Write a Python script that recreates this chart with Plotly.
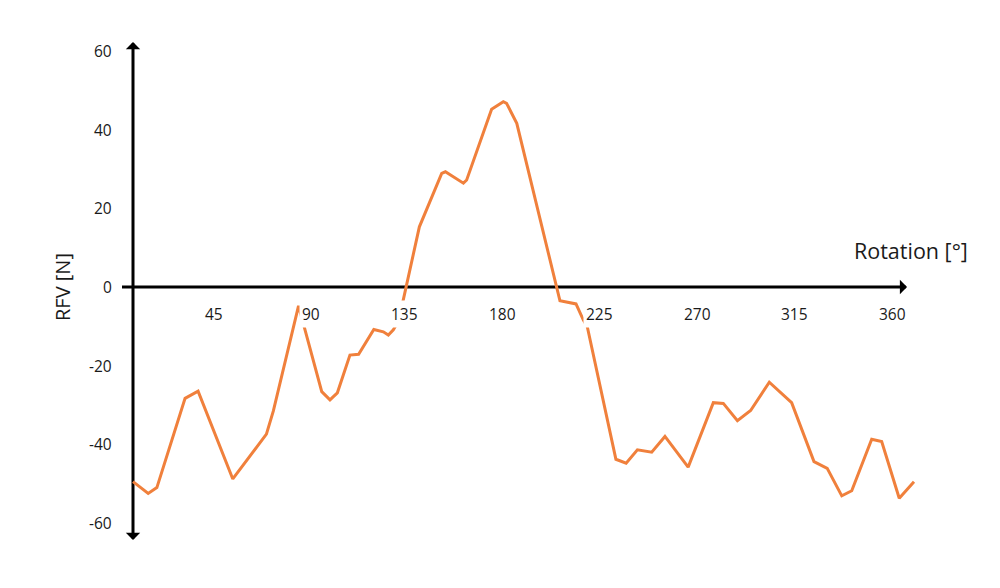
import plotly.graph_objects as go

# ---- data ----
rotation_deg = [0, 7, 11, 24, 30, 46, 61.5, 64.7, 76.3, 87, 90.8, 94.2, 100, 104,
                111, 115.4, 117.7, 120, 122.5, 132, 142.3, 144, 152.3, 153.8, 165.3,
                170.7, 172.2, 176.9, 196.8, 204.2, 207.6, 209.4, 222.6, 227.3, 232.5,
                239.1, 245.2, 255.9, 267.5, 272.1, 278.6, 284.7, 293.3, 303.6, 313.9,
                320, 326.7, 331.3, 340.5, 345.1, 353.2, 360]
rfv_n = [-49.5, -52.5, -51, -28.3, -26.5, -48.8, -37.4, -31.5, -4.8, -26.6, -28.7, -26.9,
         -17.3, -17.1, -10.8, -11.4, -12.2, -10.9, -8.5, 15.3, 28.9, 29.3, 26.4, 27.2,
         45.2, 47.1, 46.7, 41.6, -3.5, -4.3, -8.4, -10.1, -43.8, -44.8, -41.4, -42,
         -38, -45.8, -29.4, -29.6, -34, -31.4, -24.2, -29.4, -44.4, -46.1, -53.1,
         -51.8, -38.7, -39.3, -53.7, -49.5]

x_ticks = [45, 90, 135, 180, 225, 270, 315, 360]
y_ticks = [60, 40, 20, 0, -20, -40, -60]
x_title = "Rotation [°]"
y_title = "RFV [N]"

# ---- styling ----
FONT = "Open Sans"
TXT = "#1a1a1a"
ORANGE = "#F0803C"
X_RANGE = [-5.07, 370.14]
Y_RANGE = [-66.36, 62.8]
X_ARROW_TIP = 356.8
Y_TOP_TIP = 62.3
Y_BOT_TIP = -64.3

# page body has an 8px margin -> figure origin sits at (8, 8) in the window
OFF = 8
W, H = 984, 572
L, T = 122 - OFF, 40 - OFF
PW, PH = 814, 508
R = W - L - PW
B = H - T - PH

fig = go.Figure()
fig.add_trace(go.Scatter(x=rotation_deg, y=rfv_n, mode="lines",
                         line=dict(color=ORANGE, width=3), hoverinfo="skip",
                         showlegend=False))

shapes = [
    dict(type="line", xref="x", yref="y", x0=X_RANGE[0], x1=X_ARROW_TIP - 1.5, y0=0, y1=0,
         line=dict(color="black", width=3), layer="below"),
    dict(type="line", xref="x", yref="y", x0=0, x1=0, y0=Y_BOT_TIP + 1.2, y1=Y_TOP_TIP - 1.2,
         line=dict(color="black", width=3), layer="below"),
]

annotations = []
# arrow heads
for (tx, ty, axp, ayp) in [(0, Y_TOP_TIP, 0, 8), (0, Y_BOT_TIP, 0, -8), (X_ARROW_TIP, 0, -8, 0)]:
    annotations.append(dict(x=tx, y=ty, xref="x", yref="y", text="", showarrow=True,
                            ax=axp, ay=ayp, arrowhead=1, arrowwidth=3, arrowsize=0.8,
                            arrowcolor="black", standoff=0))

# x tick labels (white box hides the line behind them)
for v in x_ticks:
    annotations.append(dict(x=v, y=0, xref="x", yref="y", text=str(v), showarrow=False,
                            xanchor="right", yanchor="middle", xshift=-5, yshift=-27,
                            bgcolor="white", borderpad=2,
                            font=dict(family=FONT, size=15.5, color=TXT)))
# y tick labels
for v in y_ticks:
    annotations.append(dict(x=0, y=v, xref="paper", yref="y", text=str(v), showarrow=False,
                            xanchor="right", yanchor="middle", xshift=-8,
                            font=dict(family=FONT, size=15.5, color=TXT)))

# titles, positioned in window pixels then converted to paper coords
titles = [
    dict(px=911, py=250, text=x_title, size=21.5, angle=0),
    dict(px=62, py=287, text=y_title, size=20, angle=-90),
]
for t in titles:
    annotations.append(dict(x=(t["px"] - OFF - L) / PW, y=(H - B - (t["py"] - OFF)) / PH,
                            xref="paper", yref="paper", text=t["text"], showarrow=False,
                            textangle=t["angle"], xanchor="center", yanchor="middle",
                            font=dict(family=FONT, size=t["size"], color=TXT)))

fig.update_layout(
    width=W, height=H,
    margin=dict(l=L, r=R, t=T, b=B),
    paper_bgcolor="white", plot_bgcolor="white",
    xaxis=dict(range=X_RANGE, visible=False),
    yaxis=dict(range=Y_RANGE, visible=False),
    shapes=shapes, annotations=annotations,
    showlegend=False,
)

fig.write_html("out.html")
